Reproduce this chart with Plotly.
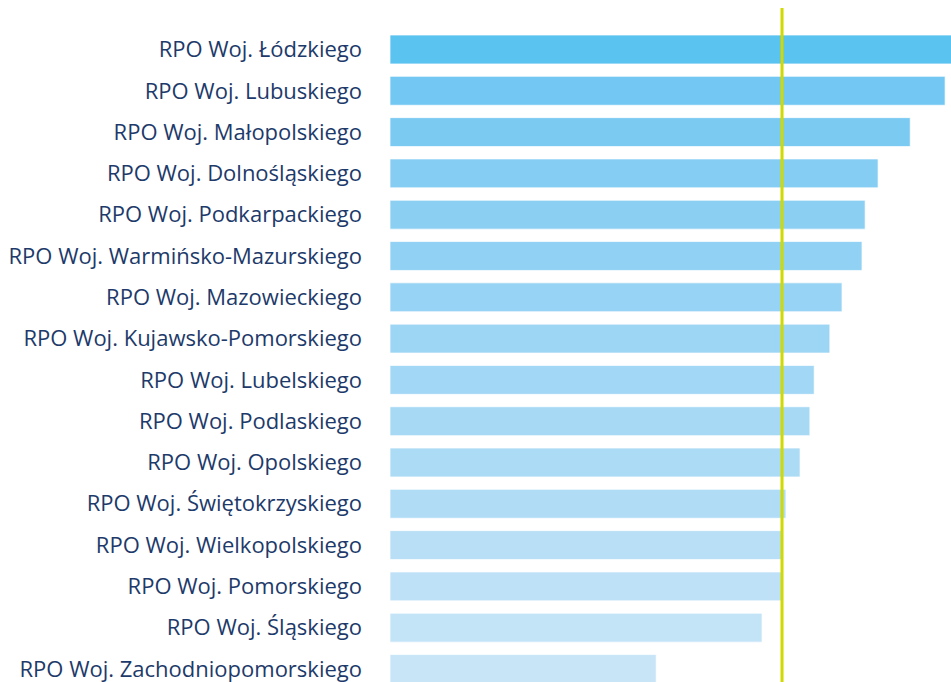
import plotly.graph_objects as go

categories = [
    "RPO Woj. Łódzkiego",
    "RPO Woj. Lubuskiego",
    "RPO Woj. Małopolskiego",
    "RPO Woj. Dolnośląskiego",
    "RPO Woj. Podkarpackiego",
    "RPO Woj. Warmińsko-Mazurskiego",
    "RPO Woj. Mazowieckiego",
    "RPO Woj. Kujawsko-Pomorskiego",
    "RPO Woj. Lubelskiego",
    "RPO Woj. Podlaskiego",
    "RPO Woj. Opolskiego",
    "RPO Woj. Świętokrzyskiego",
    "RPO Woj. Wielkopolskiego",
    "RPO Woj. Pomorskiego",
    "RPO Woj. Śląskiego",
    "RPO Woj. Zachodniopomorskiego",
]
values = [146.0, 141.6, 132.7, 124.5, 121.2, 120.4, 115.3, 112.2,
          108.2, 107.1, 104.6, 101.0, 100.0, 100.0, 94.9, 67.9]
reference_value = 100.0

bar_colors = [
    "#5AC3F0", "#72C8F2", "#7BCAF2", "#85CDF3", "#8BCFF3", "#91D1F4",
    "#97D3F4", "#9DD5F4", "#A2D7F5", "#A7D9F5", "#ACDBF5", "#B1DCF6",
    "#B8DFF6", "#BEE1F7", "#C3E3F7", "#C8E5F8",
]

fig = go.Figure()
fig.add_trace(go.Bar(
    x=values,
    y=categories,
    orientation="h",
    marker=dict(color=bar_colors, line=dict(color="rgba(255,255,255,0.7)", width=1)),
    width=0.7,
    hoverinfo="x+y",
))

fig.add_shape(
    type="line",
    xref="x", yref="paper",
    x0=reference_value, x1=reference_value,
    y0=0, y1=1 - 8 / 682,
    line=dict(color="#CFDA00", width=3),
    layer="above",
)

fig.update_layout(
    width=951,
    height=682,
    margin=dict(l=390, r=0, t=0, b=0),
    paper_bgcolor="white",
    plot_bgcolor="white",
    showlegend=False,
    font=dict(family="Open Sans", size=22, color="#1D3A6A"),
    xaxis=dict(range=[0, 143.1], visible=False, fixedrange=True),
    yaxis=dict(
        type="category",
        categoryorder="array",
        categoryarray=categories,
        range=[15.315, -1.1985],
        showgrid=False,
        zeroline=False,
        showline=False,
        ticks="",
        ticklabelstandoff=27,
        tickfont=dict(family="Open Sans", size=22, color="#1D3A6A"),
        fixedrange=True,
    ),
)

fig.write_html(
    "out.html",
    config={"displayModeBar": False},
    post_script="document.body.style.margin='0';document.body.style.padding='0';",
)
